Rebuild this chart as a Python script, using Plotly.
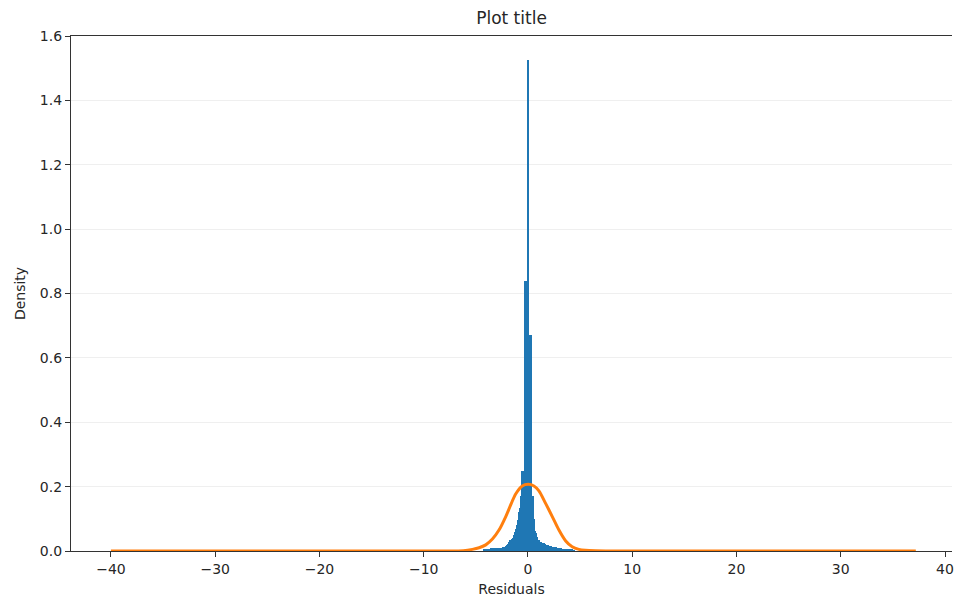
import numpy as np
import plotly.graph_objects as go

# Histogram of residuals (density), bins of width 0.1 centred on x.x5
bin_width = 0.1
bin_centers = np.round(np.arange(-4.25, 4.5, 0.1), 2)
bin_density = [
    0.004, 0.005, 0.005, 0.006, 0.006, 0.007, 0.007, 0.008, 0.008, 0.008,   # -4.25 .. -3.35
    0.009, 0.000, 0.009, 0.009, 0.000, 0.010, 0.010, 0.010, 0.000, 0.011,   # -3.25 .. -2.35
    0.013, 0.015, 0.018, 0.022, 0.027, 0.033, 0.035, 0.036, 0.040, 0.050,   # -2.25 .. -1.35
    0.060, 0.068, 0.080, 0.095, 0.120, 0.135, 0.170, 0.250, 0.250, 0.250,   # -1.25 .. -0.35
    0.840, 0.840, 0.000, 1.525, 0.670, 0.670, 0.000, 0.170, 0.100, 0.062,   # -0.25 .. 0.65
    0.055, 0.045, 0.035, 0.033, 0.028, 0.027, 0.026, 0.025, 0.024, 0.022,   # 0.75 .. 1.65
    0.020, 0.019, 0.018, 0.016, 0.015, 0.014, 0.013, 0.013, 0.012, 0.011,   # 1.75 .. 2.65
    0.010, 0.010, 0.009, 0.000, 0.008, 0.000, 0.007, 0.007, 0.007, 0.000,   # 2.75 .. 3.65
    0.006, 0.006, 0.005, 0.005, 0.004, 0.004, 0.003, 0.003,                 # 3.75 .. 4.45
]

# Fitted normal density over the residual range
fit_x = [-40.0, -8.0, -6.2, -5.33, -4.69, -4.05, -3.41, -2.78, -2.13, -1.66, -1.18,
         -0.55, 0.03, 0.57, 1.05, 1.69, 2.33, 2.97, 3.60, 4.24, 4.88, 5.50, 6.5, 8.0, 37.2]
fit_y = [0.0, 0.0, 0.001, 0.005, 0.010, 0.019, 0.037, 0.065, 0.107, 0.143, 0.177,
         0.202, 0.207, 0.202, 0.187, 0.148, 0.107, 0.065, 0.032, 0.013, 0.005, 0.002, 0.0005, 0.0, 0.0]

x_ticks = [-40, -30, -20, -10, 0, 10, 20, 30, 40]
y_ticks = [0.0, 0.2, 0.4, 0.6, 0.8, 1.0, 1.2, 1.4, 1.6]

font = "DejaVu Sans"
axis_color = "#333333"

fig = go.Figure()
fig.add_trace(go.Bar(
    x=bin_centers, y=bin_density, width=bin_width,
    marker=dict(color="#1f77b4", line=dict(width=0)),
    showlegend=False,
))
fig.add_trace(go.Scatter(
    x=fit_x, y=fit_y, mode="lines",
    line=dict(color="#ff7f0e", width=3, shape="spline", smoothing=0.8),
    showlegend=False,
))

fig.update_layout(
    width=954, height=601,
    margin=dict(l=71, r=0, t=36, b=50),
    paper_bgcolor="white", plot_bgcolor="white",
    bargap=0,
    font=dict(family=font, size=14, color="#262626"),
    title=dict(text="Plot title", x=0.5, xref="paper", xanchor="center",
               y=1 - 18 / 601, yanchor="middle",
               font=dict(family=font, size=17, color="#262626")),
)
fig.update_xaxes(
    range=[-43.83, 40.67],
    tickvals=x_ticks, ticktext=[str(v).replace("-", "\u2212") for v in x_ticks],
    ticklabeloverflow="allow",
    ticks="outside", ticklen=5, tickwidth=1, tickcolor=axis_color,
    showline=True, linecolor=axis_color, linewidth=1.3, mirror=True,
    showgrid=False, zeroline=False,
    title=dict(text="Residuals", font=dict(size=14), standoff=8),
)
fig.update_yaxes(
    range=[0, 1.6],
    tickvals=y_ticks, ticktext=[f"{v:.1f}" for v in y_ticks],
    ticks="outside", ticklen=5, tickwidth=1, tickcolor=axis_color,
    showline=True, linecolor=axis_color, linewidth=1.3, mirror=False,
    showgrid=True, gridcolor="#efefef", gridwidth=1, zeroline=False,
    title=dict(text="Density", font=dict(size=14), standoff=10),
)

fig.write_html("out.html")
